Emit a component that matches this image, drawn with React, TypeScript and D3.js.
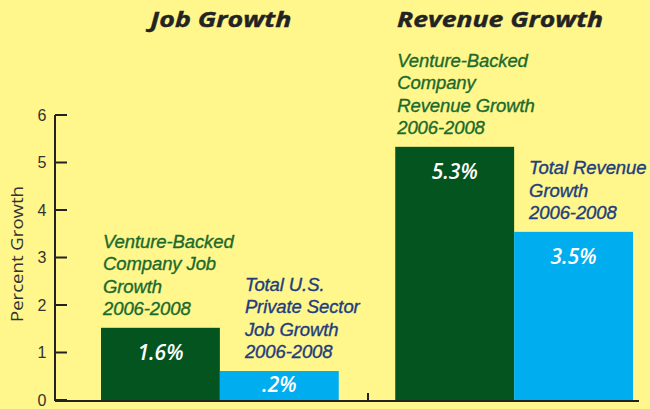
import React from "react";
import * as d3 from "d3";

const groups = ["Job Growth", "Revenue Growth"];
const series = ["Venture-Backed", "Total"];
// bar heights as drawn (percent growth)
const jobValues = [1.52, 0.61];
const revenueValues = [5.33, 3.54];
const valueLabels = [["1.6%", ".2%"], ["5.3%", "3.5%"]];
const yTicks = [0, 1, 2, 3, 4, 5, 6];
const annotations = [
  [
    ["Venture-Backed", "Company Job", "Growth", "2006-2008"],
    ["Total U.S.", "Private Sector", "Job Growth", "2006-2008"],
  ],
  [
    ["Venture-Backed", "Company", "Revenue Growth", "2006-2008"],
    ["Total Revenue", "Growth", "2006-2008"],
  ],
];

const W = 650;
const H = 409;
const BG = "#fff68c";
const GREEN = "#03541f";
const BLUE = "#00adef";
const TXT_GREEN = "#1b6a2c";
const TXT_BLUE = "#223d7e";
const FONT = "'Open Sans', 'DejaVu Sans', sans-serif";
const FONT2 = "'Liberation Sans', Arial, sans-serif";

export default function App() {
  const y = d3.scaleLinear().domain([0, 6]).range([400, 115]);
  const xG = d3.scaleBand().domain(groups).range([101, 633]).paddingInner(0.192).paddingOuter(0);
  const xS = d3.scaleBand().domain(series).range([0, xG.bandwidth()]).padding(0);
  const data = [jobValues, revenueValues];
  const axisX = 55;
  const baseY = y(0);
  const midTick = (xG("Job Growth")! + xG.bandwidth() + xG("Revenue Growth")!) / 2 + 1;
  const titleLens = [141, 206];

  return (
    <svg width={W} height={H} style={{ display: "block", position: "absolute", left: 0, top: 0 }}>
      <rect x={0} y={0} width={W} height={H} fill={BG} />
      {groups.map((g, gi) => {
        const gx = xG(g)!;
        return (
          <g key={g}>
            <text
              x={gx + xG.bandwidth() / 2 + (gi === 0 ? 1 : -14)}
              y={27}
              textAnchor="middle"
              fontFamily={FONT}
              fontStyle="italic"
              fontWeight={700}
              fontSize={22}
              fill="#232323"
              stroke="#232323"
              strokeWidth={0.4}
              textLength={titleLens[gi]}
              lengthAdjust="spacingAndGlyphs"
            >
              {g}
            </text>
            {series.map((s, si) => {
              const v = data[gi][si];
              const bx = gx + xS(s)!;
              const top = y(v);
              const lines = annotations[gi][si];
              const firstBase = top - (lines.length - 1) * 22.3 - 13;
              return (
                <g key={s}>
                  <rect x={bx} y={top} width={xS.bandwidth()} height={baseY - top} fill={si === 0 ? GREEN : BLUE} />
                  <text
                    x={bx + xS.bandwidth() / 2}
                    y={Math.min(top + 32, baseY - 8)}
                    textAnchor="middle"
                    fontFamily={FONT}
                    fontStyle="italic"
                    fontWeight={600}
                    fontSize={21}
                    fill="#ffffff"
                  >
                    {valueLabels[gi][si]}
                  </text>
                  {lines.map((ln, li) => (
                    <text
                      key={li}
                      x={bx + (si === 0 ? 2 : 25 - (gi === 1 ? 10 : 0))}
                      y={firstBase + li * 22.3}
                      fontFamily={FONT2}
                      fontStyle="italic"
                      fontSize={18.5}
                      letterSpacing={-0.1}
                      stroke={si === 0 ? TXT_GREEN : TXT_BLUE}
                      strokeWidth={0.35}
                      fill={si === 0 ? TXT_GREEN : TXT_BLUE}
                    >
                      {ln}
                    </text>
                  ))}
                </g>
              );
            })}
          </g>
        );
      })}
      {/* axes */}
      <line x1={axisX} x2={axisX} y1={y(6)} y2={baseY + 1} stroke="#222" strokeWidth={2} />
      <line x1={axisX} x2={639} y1={baseY + 1} y2={baseY + 1} stroke="#222" strokeWidth={2} />
      <line x1={midTick} x2={midTick} y1={baseY + 1} y2={baseY - 7} stroke="#222" strokeWidth={2} />
      {yTicks.map((t) => (
        <g key={t}>
          <line x1={axisX} x2={axisX + 12} y1={y(t)} y2={y(t)} stroke="#222" strokeWidth={2} />
          <text x={42} y={y(t) + 5.5} textAnchor="middle" fontFamily={FONT2} fontSize={16} fill="#333">
            {t}
          </text>
        </g>
      ))}
      <text
        transform={`translate(23, 254) rotate(-90)`}
        textAnchor="middle"
        fontFamily={FONT}
        fontSize={16.5}
        textLength={136}
        lengthAdjust="spacingAndGlyphs"
        fill="#333"
      >
        Percent Growth
      </text>
    </svg>
  );
}
